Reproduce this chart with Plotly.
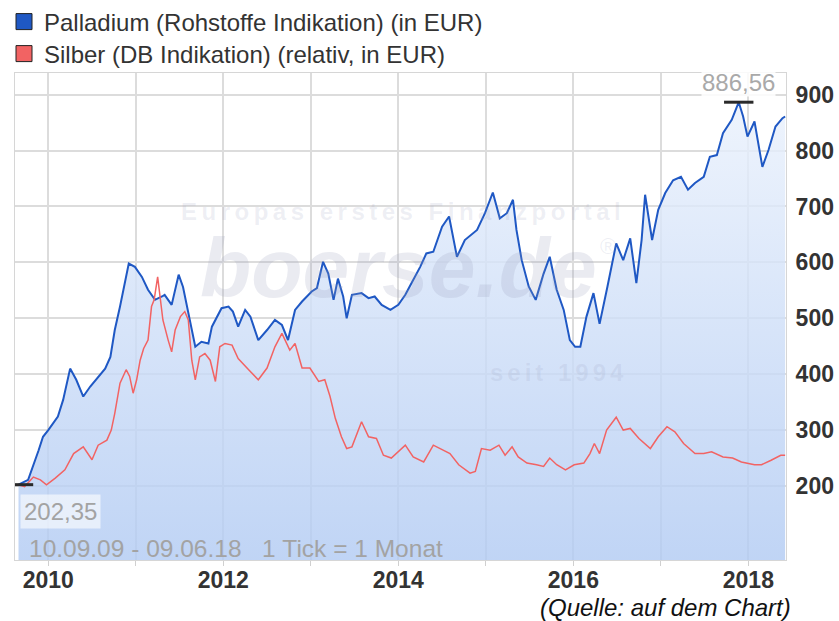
import plotly.graph_objects as go

# ---------------- data ----------------
pd_years = [2009.66, 2009.77, 2009.89, 2009.94, 2010.00, 2010.11, 2010.17, 2010.25, 2010.32, 2010.40,
            2010.48, 2010.57, 2010.65, 2010.71, 2010.76, 2010.82, 2010.88, 2010.92, 2010.99, 2011.07,
            2011.14, 2011.22, 2011.30, 2011.33, 2011.41, 2011.49, 2011.54, 2011.60, 2011.66, 2011.68,
            2011.75, 2011.83, 2011.87, 2011.98, 2012.06, 2012.11, 2012.17, 2012.25, 2012.31, 2012.40,
            2012.50, 2012.59, 2012.67, 2012.74, 2012.82, 2012.90, 2013.01, 2013.07, 2013.14, 2013.20,
            2013.26, 2013.31, 2013.37, 2013.41, 2013.47, 2013.58, 2013.66, 2013.73, 2013.81, 2013.91,
            2014.00, 2014.08, 2014.13, 2014.25, 2014.32, 2014.40, 2014.50, 2014.58, 2014.67, 2014.76,
            2014.90, 2014.99, 2015.08, 2015.16, 2015.24, 2015.31, 2015.35, 2015.41, 2015.49, 2015.57,
            2015.66, 2015.73, 2015.81, 2015.89, 2015.96, 2016.02, 2016.08, 2016.15, 2016.23, 2016.30,
            2016.39, 2016.49, 2016.57, 2016.65, 2016.72, 2016.78, 2016.82, 2016.90, 2016.97, 2017.05,
            2017.14, 2017.23, 2017.31, 2017.39, 2017.49, 2017.56, 2017.64, 2017.71, 2017.81, 2017.89,
            2017.94, 2017.99, 2018.07, 2018.11, 2018.16, 2018.23, 2018.31, 2018.39, 2018.42]
pd_values = [202.35, 211, 264, 288, 300, 324, 354, 410, 390, 360,
             378, 395, 410, 431, 479, 521, 569, 598, 592, 574,
             551, 533, 539, 542, 524, 578, 556, 509, 461, 449,
             458, 455, 485, 518, 521, 512, 485, 515, 503, 461,
             479, 497, 488, 461, 515, 530, 548, 554, 601, 580,
             533, 571, 539, 500, 542, 545, 536, 539, 524, 515,
             524, 542, 557, 592, 616, 619, 664, 682, 610, 640,
             658, 688, 725, 679, 688, 712, 658, 604, 557, 533,
             580, 610, 551, 515, 461, 449, 449, 503, 545, 490,
             557, 634, 604, 643, 563, 640, 721, 640, 694, 724,
             747, 753, 730, 742, 753, 789, 792, 831, 855, 886.56,
             861, 825, 852, 813, 771, 801, 843, 858, 861]

ag_years = [2009.66, 2009.73, 2009.83, 2009.91, 2009.98, 2010.08, 2010.19, 2010.29, 2010.40, 2010.50,
            2010.57, 2010.67, 2010.72, 2010.76, 2010.82, 2010.89, 2010.93, 2010.97, 2011.01, 2011.05,
            2011.09, 2011.14, 2011.18, 2011.21, 2011.25, 2011.28, 2011.31, 2011.37, 2011.41, 2011.45,
            2011.51, 2011.56, 2011.60, 2011.64, 2011.68, 2011.73, 2011.79, 2011.85, 2011.91, 2011.96,
            2012.02, 2012.10, 2012.17, 2012.29, 2012.40, 2012.50, 2012.59, 2012.67, 2012.72, 2012.76,
            2012.82, 2012.90, 2012.99, 2013.09, 2013.16, 2013.22, 2013.28, 2013.35, 2013.41, 2013.47,
            2013.58, 2013.66, 2013.75, 2013.83, 2013.92, 2014.00, 2014.08, 2014.17, 2014.29, 2014.40,
            2014.51, 2014.59, 2014.69, 2014.82, 2014.88, 2014.95, 2015.05, 2015.15, 2015.22, 2015.30,
            2015.37, 2015.47, 2015.58, 2015.66, 2015.73, 2015.81, 2015.91, 2016.01, 2016.12, 2016.19,
            2016.24, 2016.30, 2016.38, 2016.49, 2016.57, 2016.65, 2016.75, 2016.88, 2016.97, 2017.07,
            2017.16, 2017.26, 2017.39, 2017.49, 2017.58, 2017.71, 2017.82, 2017.92, 2018.07, 2018.15,
            2018.26, 2018.37, 2018.42]
ag_values = [202.35, 199, 216, 211, 202, 214, 229, 258, 270, 247,
             273, 282, 300, 330, 384, 408, 396, 366, 390, 425,
             446, 461, 521, 533, 574, 539, 497, 461, 440, 479,
             503, 512, 497, 425, 390, 431, 437, 425, 387, 449,
             455, 452, 428, 408, 390, 411, 449, 473, 455, 443,
             455, 411, 411, 387, 390, 360, 321, 288, 267, 270,
             315, 288, 285, 255, 250, 261, 273, 252, 243, 273,
             264, 258, 238, 223, 226, 267, 264, 273, 255, 270,
             252, 241, 238, 235, 250, 238, 229, 238, 241, 258,
             276, 258, 300, 323, 300, 303, 285, 267, 288, 306,
             297, 276, 258, 258, 261, 252, 250, 243, 238, 238,
             246, 255, 255]

y_tick_values = [200, 300, 400, 500, 600, 700, 800, 900]
x_tick_years = [2010, 2011, 2012, 2013, 2014, 2015, 2016, 2017, 2018]
x_tick_labels = ["2010", "", "2012", "", "2014", "", "2016", "", "2018"]

pd_name = "Palladium (Rohstoffe Indikation) (in EUR)"
ag_name = "Silber (DB Indikation) (relativ, in EUR)"
period_text = "10.09.09 - 09.06.18   1 Tick = 1 Monat"
source_text = "(Quelle: auf dem Chart)"

# ---------------- figure ----------------
Y_MIN, Y_MAX = 67.6, 938.8
X_MIN, X_MAX = 2009.62, 2018.43
FONT = "Liberation Sans, Arial, sans-serif"
BLUE = "#1f58c4"
RED = "#f26363"

imax = max(range(len(pd_values)), key=lambda i: pd_values[i])
fmt = lambda v: f"{v:.2f}".replace(".", ",")

fig = go.Figure()

fig.add_trace(go.Scatter(
    x=pd_years, y=pd_values, mode="lines", name=pd_name, showlegend=False,
    line=dict(color=BLUE, width=2),
    fill="tozeroy",
    fillgradient=dict(type="vertical",
                      colorscale=[[0, "rgba(178,203,243,0.82)"], [1, "rgba(238,244,253,0.82)"]],
                      start=Y_MIN, stop=Y_MAX),
))
fig.add_trace(go.Scatter(
    x=ag_years, y=ag_values, mode="lines", name=ag_name, showlegend=False,
    line=dict(color=RED, width=1.5),
))
# max / start markers
fig.add_trace(go.Scatter(
    x=[pd_years[imax], pd_years[0]], y=[pd_values[imax], pd_values[0]], mode="markers",
    showlegend=False, hoverinfo="skip",
    marker=dict(symbol="line-ew", size=21, line=dict(color="#2a2a2a", width=3)),
))
# legend entries (square symbols), one legend each for exact row placement
fig.add_trace(go.Scatter(x=[None], y=[None], mode="markers", name=pd_name, legend="legend",
                         marker=dict(symbol="square", size=16, color=BLUE, line=dict(color="#222", width=1))))
fig.add_trace(go.Scatter(x=[None], y=[None], mode="markers", name=ag_name, legend="legend2",
                         marker=dict(symbol="square", size=16, color=RED, line=dict(color="#222", width=1))))

W, H = 839, 621
L, R, T, B = 15, 53, 73, 61
pw, ph = W - L - R, H - T - B
px = lambda p: (p - L) / pw
py = lambda p: (H - B - p) / ph

wm = "rgba(150,155,185,0.16)"
annotations = [
    dict(text='<span style="letter-spacing:4.5px"><b>Europas erstes Finanzportal</b></span>',
         x=px(403), y=py(212), xref="paper", yref="paper", xanchor="center", yanchor="middle",
         showarrow=False, font=dict(family=FONT, size=24, color=wm)),
    dict(text="<b><i>boerse.de</i></b>", x=px(398), y=py(268), xref="paper", yref="paper",
         xanchor="center", yanchor="middle",
         showarrow=False, font=dict(family=FONT, size=84, color="rgba(150,155,185,0.2)")),
    dict(text="®", x=px(608), y=py(246), xref="paper", yref="paper", xanchor="center", yanchor="middle",
         showarrow=False, font=dict(family=FONT, size=22, color=wm)),
    dict(text='<span style="letter-spacing:4px"><b>seit 1994</b></span>', x=px(558), y=py(372),
         xref="paper", yref="paper", xanchor="center", yanchor="middle",
         showarrow=False, font=dict(family=FONT, size=24, color=wm)),
    dict(text=fmt(pd_values[imax]), x=pd_years[imax], y=py(82), xref="x", yref="paper",
         xanchor="center", yanchor="middle",
         showarrow=False, bgcolor="rgba(255,255,255,0.85)", borderpad=0,
         font=dict(family=FONT, size=24, color="#a9a9a9")),
    dict(text=fmt(pd_values[0]), x=px(20), y=py(511), xref="paper", yref="paper",
         xanchor="left", yanchor="middle",
         showarrow=False, bgcolor="rgba(255,255,255,0.6)", borderpad=3,
         font=dict(family=FONT, size=24, color="#a3a3a3")),
    dict(text=period_text.replace(" ", "&nbsp;"), x=px(27), y=py(548), xref="paper", yref="paper",
         xanchor="left", yanchor="middle",
         showarrow=False, font=dict(family=FONT, size=24.5, color="#a3a3a3")),
    dict(text=source_text, x=px(793), y=py(607), xref="paper", yref="paper",
         xanchor="right", yanchor="middle",
         showarrow=False, font=dict(family=FONT, size=24, color="#111", style="italic")),
]

legend_style = dict(xref="paper", yref="paper", xanchor="left", yanchor="middle",
                    bgcolor="rgba(0,0,0,0)", font=dict(family=FONT, size=24, color="#333"),
                    itemclick=False)

fig.update_layout(
    width=W, height=H,
    margin=dict(l=L, r=R, t=T, b=B, pad=0, autoexpand=False),
    paper_bgcolor="white", plot_bgcolor="white",
    font=dict(family=FONT, size=24, color="#333"),
    showlegend=True,
    legend=dict(x=px(4), y=py(22), **legend_style),
    legend2=dict(x=px(4), y=py(54), **legend_style),
    annotations=annotations,
    xaxis=dict(range=[X_MIN, X_MAX], tickmode="array", tickvals=x_tick_years, ticktext=x_tick_labels,
               showgrid=True, gridcolor="#dcdcdc", gridwidth=2, zeroline=False,
               ticks="outside", ticklen=5, tickcolor="#d0d0d0", tickwidth=1,
               ticklabelstandoff=-6,
               showline=True, linecolor="#d6d6d6", linewidth=1, mirror=True,
               tickfont=dict(family=FONT, size=23, color="#333", weight="bold")),
    yaxis=dict(range=[Y_MIN, Y_MAX], side="right", tickmode="array", tickvals=y_tick_values,
               showgrid=True, gridcolor="#dcdcdc", gridwidth=2, zeroline=False,
               ticks="outside", ticklen=4, tickcolor="rgba(0,0,0,0)",
               showline=True, linecolor="#d6d6d6", linewidth=1, mirror=True,
               tickfont=dict(family=FONT, size=23, color="#333", weight="bold")),
)

fig.write_html("out.html", config={"displayModeBar": False},
               post_script="document.body.style.margin='0px';")
